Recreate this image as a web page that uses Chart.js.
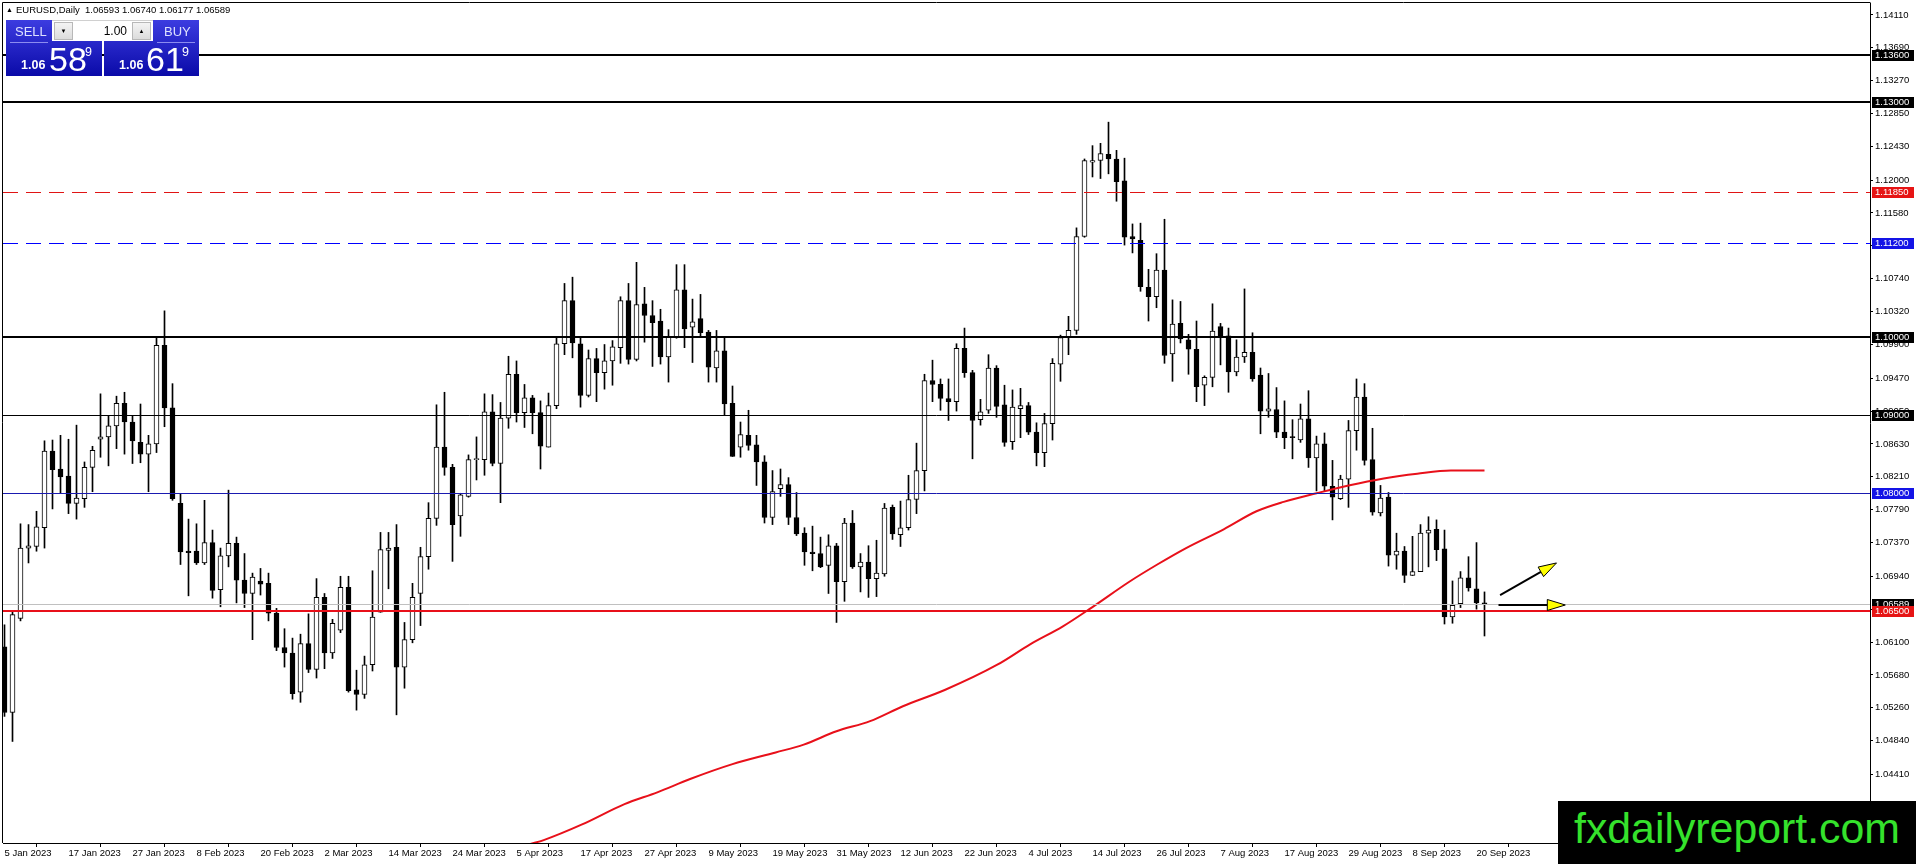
<!DOCTYPE html>
<html><head><meta charset="utf-8">
<script src="https://cdn.jsdelivr.net/npm/chart.js@4.4.0/dist/chart.umd.min.js"></script>
<style>
html,body{margin:0;padding:0;background:#fff;overflow:hidden;}
#wrap{position:relative;width:1916px;height:864px;font-family:"Liberation Sans",Arial,sans-serif;}
canvas{position:absolute;left:0;top:0;}
#hdr{position:absolute;left:6px;top:4px;font-size:9.5px;color:#000;white-space:nowrap;line-height:12px;}
#hdr .tri{font-size:7px;vertical-align:1px;margin-right:3px;}
.btn{position:absolute;background:linear-gradient(#3c3ce0,#0a0aa8);overflow:hidden;}
.btn div{position:absolute;white-space:nowrap;color:#fff;}
.lbl{font-size:13px;line-height:15px;color:#dde0ff !important;}
.ul{height:1px;background:#8c8cf0;}
.small{font-size:12.5px;line-height:13px;font-weight:bold;}
.big{font-size:34px;line-height:34px;}
.sup{font-size:12.5px;line-height:13px;}
#lot{position:absolute;left:52px;top:20px;width:101px;height:21px;background:#fff;border-top:1px solid #d0d0d0;box-sizing:border-box;}
#lot .ar{position:absolute;top:1px;width:19px;height:18px;background:linear-gradient(#f4f4f4,#dcdcdc);border:1px solid #b8b8b8;box-sizing:border-box;font-size:6px;line-height:16px;text-align:center;color:#000;}
#lot .val{position:absolute;right:26px;top:2px;font-size:12px;line-height:16px;color:#000;}
#wm{position:absolute;left:1558px;top:801px;width:358px;height:63px;background:#000;overflow:hidden;}
#wmt{position:absolute;left:16px;top:4px;font-family:"Liberation Sans Narrow","Liberation Sans",Arial,sans-serif;font-size:42px;line-height:48px;color:#35e22c;white-space:nowrap;transform-origin:0 0;}
</style></head><body>
<div id="wrap">
<canvas id="c" width="1916" height="864"></canvas>
<div id="hdr"><span class="tri">&#9650;</span>EURUSD,Daily&nbsp; 1.06593 1.06740 1.06177 1.06589</div>
<div class="btn" style="left:6px;top:20px;width:96px;height:56px;">
  <div class="lbl" style="left:9px;top:4px;">SELL</div>
  <div class="ul" style="left:4px;top:22px;width:38px;"></div>
  <div class="small" style="left:15px;top:39px;">1.06</div>
  <div class="big" style="left:43px;top:22px;">58</div>
  <div class="sup" style="left:79px;top:26px;">9</div>
</div>
<div class="btn" style="left:104px;top:20px;width:95px;height:56px;">
  <div class="lbl" style="left:60px;top:4px;">BUY</div>
  <div class="ul" style="left:53px;top:22px;width:38px;"></div>
  <div class="small" style="left:15px;top:39px;">1.06</div>
  <div class="big" style="left:42px;top:22px;">61</div>
  <div class="sup" style="left:78px;top:26px;">9</div>
</div>
<div id="lot">
  <div class="ar" style="left:2px;">&#9660;</div>
  <div class="val">1.00</div>
  <div class="ar" style="left:80px;">&#9650;</div>
</div>
<div id="wm"><div id="wmt">fxdailyreport.com</div></div>
</div>
<script>
// ---------- data ----------
const dateLabels = ["5 Jan 2023","17 Jan 2023","27 Jan 2023","8 Feb 2023","20 Feb 2023","2 Mar 2023","14 Mar 2023","24 Mar 2023","5 Apr 2023","17 Apr 2023","27 Apr 2023","9 May 2023","19 May 2023","31 May 2023","12 Jun 2023","22 Jun 2023","4 Jul 2023","14 Jul 2023","26 Jul 2023","7 Aug 2023","17 Aug 2023","29 Aug 2023","8 Sep 2023","20 Sep 2023"];
const dateTickIdx = [0,8,16,24,32,40,48,56,64,72,80,88,96,104,112,120,128,136,144,152,160,168,176,184];

const opens = [1.0604,1.0520,1.0640,1.0730,1.0732,1.0756,1.0854,1.0831,1.0822,1.0787,1.0793,1.0833,1.0869,1.0872,1.0886,1.0915,1.0891,1.0865,1.0850,1.0863,
1.0989,1.0909,1.0787,1.0726,1.0726,1.0711,1.0737,1.0677,1.0720,1.0736,1.0689,1.0672,1.0688,1.0685,1.0647,1.0603,1.0596,1.0546,1.0608,1.0575,
1.0667,1.0596,1.0625,1.0680,1.0549,1.0543,1.0581,1.0648,1.0727,1.0731,1.0578,1.0613,1.0672,1.0719,1.0768,1.0859,1.0833,1.0771,1.0796,1.0843,
1.0843,1.0904,1.0838,1.0896,1.0952,1.0903,1.0922,1.0903,1.0859,1.0912,1.0991,1.1046,1.0991,1.0925,1.0972,1.0954,1.0969,1.0986,1.1046,1.0971,
1.1042,1.1027,1.1020,1.0974,1.1000,1.1060,1.1012,1.1023,1.1006,1.0960,1.0982,1.0915,1.0859,1.0874,1.0862,1.0840,1.0769,1.0806,1.0811,1.0769,
1.0749,1.0725,1.0723,1.0708,1.0733,1.0687,1.0762,1.0706,1.0712,1.0691,1.0697,1.0782,1.0747,1.0756,1.0792,1.0829,1.0944,1.0939,1.0921,1.0917,
1.0985,1.0954,1.0894,1.0906,1.0960,1.0913,1.0866,1.0908,1.0912,1.0878,1.0852,1.0889,1.0965,1.1000,1.1008,1.1128,1.1223,1.1225,1.1233,1.1227,
1.1199,1.1128,1.1123,1.1063,1.1051,1.1085,1.0978,1.1017,1.0996,1.0984,1.0938,1.0948,1.1013,1.1001,1.0955,1.0974,1.0980,1.0951,1.0905,1.0907,
1.0878,1.0872,1.0868,1.0895,1.0845,1.0863,1.0809,1.0793,1.0818,1.0880,1.0923,1.0843,1.0775,1.0795,1.0721,1.0726,1.0695,1.0700,1.0749,1.0754,
1.0729,1.0642,1.0659,1.0692,1.0678,1.06593];
const highs = [1.0632,1.0649,1.0761,1.0760,1.0777,1.0867,1.0868,1.0874,1.0869,1.0887,1.0840,1.0860,1.0927,1.0899,1.0924,1.0929,1.0899,1.0914,1.0874,1.1000,
1.1033,1.0940,1.0799,1.0767,1.0761,1.0791,1.0753,1.0730,1.0804,1.0744,1.0723,1.0698,1.0704,1.0698,1.0653,1.0627,1.0615,1.0620,1.0646,1.0691,
1.0672,1.0639,1.0694,1.0694,1.0574,1.0592,1.0701,1.0750,1.0750,1.0760,1.0635,1.0685,1.0731,1.0788,1.0913,1.0929,1.0837,1.0800,1.0849,1.0872,
1.0927,1.0926,1.0916,1.0975,1.0969,1.0939,1.0925,1.0918,1.0928,1.1000,1.1068,1.1076,1.1000,1.0983,1.0985,1.0990,1.0995,1.1051,1.1068,1.1095,
1.1063,1.1046,1.1035,1.1009,1.1092,1.1092,1.1048,1.1054,1.1008,1.1008,1.1000,1.0937,1.0891,1.0906,1.0874,1.0848,1.0829,1.0831,1.0820,1.0801,
1.0756,1.0758,1.0744,1.0747,1.0736,1.0768,1.0778,1.0723,1.0733,1.0740,1.0787,1.0785,1.0790,1.0823,1.0864,1.0952,1.0970,1.0946,1.0946,1.0991,
1.1011,1.0957,1.0920,1.0977,1.0963,1.0938,1.0932,1.0934,1.0916,1.0890,1.0902,1.0972,1.1002,1.1026,1.1139,1.1227,1.1244,1.1247,1.1274,1.1238,
1.1228,1.1144,1.1145,1.1086,1.1106,1.1150,1.1047,1.1045,1.1003,1.1020,1.0950,1.1042,1.1017,1.1011,1.0996,1.1061,1.1005,1.0960,1.0953,1.0935,
1.0918,1.0894,1.0914,1.0931,1.0873,1.0877,1.0842,1.0823,1.0893,1.0946,1.0940,1.0883,1.0810,1.0801,1.0749,1.0732,1.0745,1.0760,1.0770,1.0766,
1.0753,1.0688,1.0700,1.0719,1.0737,1.06740];
const lows = [1.0515,1.0483,1.0637,1.0711,1.0726,1.0730,1.0780,1.0800,1.0774,1.0767,1.0782,1.0802,1.0846,1.0835,1.0857,1.0850,1.0838,1.0839,1.0802,1.0852,
1.0885,1.0791,1.0709,1.0669,1.0709,1.0709,1.0666,1.0655,1.0706,1.0660,1.0654,1.0613,1.0670,1.0637,1.0599,1.0578,1.0537,1.0533,1.0571,1.0564,
1.0576,1.0589,1.0622,1.0546,1.0523,1.0538,1.0573,1.0648,1.0678,1.0517,1.0551,1.0609,1.0631,1.0703,1.0759,1.0823,1.0713,1.0745,1.0795,1.0817,
1.0823,1.0835,1.0788,1.0883,1.0891,1.0884,1.0876,1.0831,1.0859,1.0908,1.0977,1.0973,1.0910,1.0923,1.0917,1.0933,1.0938,1.0966,1.0965,1.0969,
1.0993,1.0962,1.0965,1.0942,1.0998,1.0986,1.0967,1.1001,1.0942,1.0942,1.0900,1.0847,1.0846,1.0855,1.0810,1.0762,1.0760,1.0796,1.0760,1.0746,
1.0708,1.0701,1.0705,1.0672,1.0635,1.0662,1.0704,1.0674,1.0667,1.0668,1.0694,1.0741,1.0732,1.0753,1.0774,1.0803,1.0917,1.0906,1.0893,1.0905,
1.0948,1.0844,1.0887,1.0902,1.0897,1.0860,1.0856,1.0871,1.0875,1.0835,1.0834,1.0868,1.0943,1.0977,1.1003,1.1127,1.1204,1.1202,1.1208,1.1173,
1.1117,1.1107,1.1058,1.1020,1.1037,1.0966,1.0943,1.0992,1.0952,1.0917,1.0912,1.0936,1.0964,1.0929,1.0950,1.0967,1.0943,1.0876,1.0897,1.0871,
1.0857,1.0844,1.0865,1.0833,1.0803,1.0803,1.0766,1.0792,1.0782,1.0855,1.0836,1.0772,1.0771,1.0707,1.0703,1.0686,1.0695,1.0700,1.0706,1.0714,
1.0633,1.0634,1.0654,1.0675,1.0652,1.06177];
const closes = [1.0520,1.0645,1.0730,1.0733,1.0757,1.0854,1.0830,1.0821,1.0787,1.0794,1.0833,1.0855,1.0872,1.0886,1.0915,1.0891,1.0867,1.0850,1.0863,1.0989,
1.0909,1.0793,1.0725,1.0724,1.0711,1.0737,1.0676,1.0720,1.0736,1.0689,1.0672,1.0693,1.0684,1.0647,1.0603,1.0596,1.0544,1.0608,1.0575,1.0667,
1.0596,1.0634,1.0680,1.0548,1.0543,1.0581,1.0642,1.0728,1.0730,1.0578,1.0613,1.0667,1.0719,1.0768,1.0859,1.0833,1.0760,1.0798,1.0843,1.0844,
1.0904,1.0838,1.0896,1.0952,1.0903,1.0922,1.0903,1.0860,1.0912,1.0991,1.1046,1.0992,1.0925,1.0972,1.0954,1.0969,1.0987,1.1046,1.0971,1.1041,
1.1027,1.1018,1.0974,1.1000,1.1060,1.1010,1.1019,1.1005,1.0961,1.0982,1.0914,1.0847,1.0875,1.0861,1.0840,1.0769,1.0802,1.0811,1.0769,1.0748,
1.0725,1.0723,1.0706,1.0733,1.0687,1.0762,1.0706,1.0712,1.0691,1.0698,1.0781,1.0748,1.0756,1.0792,1.0829,1.0944,1.0939,1.0921,1.0917,1.0985,
1.0954,1.0893,1.0904,1.0960,1.0911,1.0865,1.0910,1.0912,1.0878,1.0852,1.0889,1.0966,1.0999,1.1008,1.1128,1.1225,1.1225,1.1234,1.1227,1.1198,
1.1127,1.1125,1.1064,1.1051,1.1085,1.0976,1.1016,1.0997,1.0984,1.0936,1.0948,1.1007,1.1000,1.0955,1.0974,1.0980,1.0946,1.0905,1.0908,1.0878,
1.0871,1.0871,1.0895,1.0845,1.0863,1.0809,1.0795,1.0818,1.0880,1.0923,1.0842,1.0776,1.0794,1.0721,1.0726,1.0695,1.0700,1.0749,1.0753,1.0728,
1.0642,1.0657,1.0692,1.0679,1.0660,1.06589];

// moving average (at knot positions)
const maIdx = [65.7,67.4,72.2,77.5,81.6,85.7,91.0,96.4,99.9,104.0,108.2,112.3,117.6,124.1,128.2,132.3,135.9,140.6,144.1,147.7,152.4,156.5,159.9,164.0,168.0,172.4,176.6,180.8,185];
const maVal = [1.0352,1.0357,1.0377,1.0403,1.0418,1.0435,1.0454,1.0469,1.0479,1.0496,1.0509,1.0528,1.0549,1.0581,1.0607,1.0630,1.0654,1.0687,1.0709,1.0730,1.0754,1.0777,1.0789,1.0800,1.0810,1.0819,1.0825,1.0829,1.0829];

const yTickValues = [1.14110,1.13690,1.13270,1.12850,1.12430,1.12000,1.11580,1.11160,1.10740,1.10320,1.09900,1.09470,1.09050,1.08630,1.08210,1.07790,1.07370,1.06940,1.06520,1.06100,1.05680,1.05260,1.04840,1.04410,1.03990];
const levelPrices = [1.13600,1.13000,1.11850,1.11200,1.10000,1.09000,1.08000,1.06500];
const bidPrice = 1.06589;
// arrows: from (index, price) to (index, price)
const arrowFromIdx = [186.95, 186.75];
const arrowFromPrice = [1.0670, 1.06573];
const arrowToIdx = [194.0, 195.1];
const arrowToPrice = [1.0711, 1.06573];

// ---------- styles ----------
const levelStyles = [
  {c:'#000000', w:2, d:[], box:'#000000'},
  {c:'#000000', w:2, d:[], box:'#000000'},
  {c:'#e01414', w:1, d:[15,8], box:'#e61414'},
  {c:'#0000ff', w:1, d:[15,8], box:'#1414e6'},
  {c:'#000000', w:2, d:[], box:'#000000'},
  {c:'#000000', w:1, d:[], box:'#000000'},
  {c:'#1a1ab0', w:1, d:[], box:'#1414e6'},
  {c:'#e8101a', w:2, d:[], box:'#e61414'}
];
const FONT = "Liberation Sans";
const Y_MIN = 1.03533, Y_MAX = 1.14262;
const X_MIN = -0.1875, X_MAX = -0.1875 + 1867/8;

const wickData = lows.map((l,i)=>({x:i, y:[l, highs[i]]}));
const bodyData = opens.map((o,i)=>({x:i, y:[o, closes[i]]}));
const bodyFill = opens.map((o,i)=> closes[i] >= o ? '#ffffff' : '#000000');
const maData = maIdx.map((x,k)=>({x:x, y:maVal[k]}));

const framePlugin = {
  id:'frame',
  afterDatasetsDraw(chart){
    const {ctx, chartArea:a, scales:{x, y}} = chart;
    ctx.save();
    ctx.beginPath(); ctx.rect(a.left, a.top, a.right-a.left, a.bottom-a.top); ctx.clip();
    let py = Math.round(y.getPixelForValue(bidPrice)) + 0.5;
    ctx.strokeStyle = '#c0c0c0'; ctx.lineWidth = 1; ctx.setLineDash([]);
    ctx.beginPath(); ctx.moveTo(a.left, py); ctx.lineTo(a.right, py); ctx.stroke();
    levelPrices.forEach((p,k)=>{
      const s = levelStyles[k];
      let yy = y.getPixelForValue(p);
      yy = s.w % 2 ? Math.round(yy) + 0.5 : Math.round(yy);
      ctx.strokeStyle = s.c; ctx.lineWidth = s.w; ctx.setLineDash(s.d);
      ctx.beginPath(); ctx.moveTo(a.left, yy); ctx.lineTo(a.right, yy); ctx.stroke();
    });
    ctx.setLineDash([]);
    for (let k=0;k<arrowFromIdx.length;k++){
      const x0 = x.getPixelForValue(arrowFromIdx[k]), y0 = y.getPixelForValue(arrowFromPrice[k]);
      const x1 = x.getPixelForValue(arrowToIdx[k]), y1 = y.getPixelForValue(arrowToPrice[k]);
      const ang = Math.atan2(y1-y0, x1-x0);
      const L = 18, W = 5.5;
      const bx = x1 - L*Math.cos(ang), by = y1 - L*Math.sin(ang);
      ctx.strokeStyle = '#000'; ctx.lineWidth = 2;
      ctx.beginPath(); ctx.moveTo(x0,y0); ctx.lineTo(bx,by); ctx.stroke();
      ctx.beginPath();
      ctx.moveTo(x1,y1);
      ctx.lineTo(bx + W*Math.sin(ang), by - W*Math.cos(ang));
      ctx.lineTo(bx - W*Math.sin(ang), by + W*Math.cos(ang));
      ctx.closePath();
      ctx.fillStyle = '#ffff00'; ctx.fill();
      ctx.lineWidth = 1; ctx.strokeStyle = '#000'; ctx.stroke();
    }
    ctx.restore();
  },
  afterDraw(chart){
    const {ctx, chartArea:a, scales:{y}} = chart;
    ctx.save();
    ctx.strokeStyle = '#000'; ctx.lineWidth = 1;
    ctx.beginPath(); ctx.moveTo(a.left-0.5, a.bottom); ctx.lineTo(a.left-0.5, a.top-0.5); ctx.lineTo(a.right+0.5, a.top-0.5); ctx.stroke();
    const drawBox = (p, col) => {
      const yy = Math.round(y.getPixelForValue(p));
      ctx.fillStyle = col;
      ctx.fillRect(a.right+2, yy-5, 42, 11);
      ctx.fillStyle = '#fff';
      ctx.font = '9.5px "' + FONT + '"';
      ctx.textBaseline = 'middle'; ctx.textAlign = 'left';
      ctx.fillText(p.toFixed(5), a.right+5, yy+0.5);
    };
    drawBox(bidPrice, '#000000');
    levelPrices.forEach((p,k)=> drawBox(p, levelStyles[k].box));
    ctx.restore();
  }
};

new Chart(document.getElementById('c'), {
  type:'bar',
  data:{
    datasets:[
      {type:'bar', data:wickData, backgroundColor:'#000', borderWidth:0, barThickness:1, grouped:false, order:3},
      {type:'bar', data:bodyData, backgroundColor:bodyFill, borderColor:'#000', borderWidth:1, borderSkipped:false, barThickness:5, minBarLength:1, grouped:false, order:2},
      {type:'line', data:maData, borderColor:'#e8101a', borderWidth:2, pointRadius:0, tension:0.4, cubicInterpolationMode:'monotone', fill:false, order:1}
    ]
  },
  options:{
    responsive:false, animation:false, devicePixelRatio:1,
    layout:{padding:{left:3, top:3, right:0, bottom:0}},
    plugins:{legend:{display:false}, tooltip:{enabled:false}},
    scales:{
      x:{
        type:'linear', min:X_MIN, max:X_MAX, offset:false,
        grid:{drawOnChartArea:false, drawTicks:true, tickLength:4, color:'#000'},
        border:{display:true, color:'#000', width:1},
        ticks:{autoSkip:false, maxRotation:0, minRotation:0, align:'start', padding:1, color:'#000',
               font:{family:FONT, size:9.5},
               callback:(v)=>{ const k = dateTickIdx.indexOf(v); return k>=0 ? dateLabels[k] : ''; }},
        afterBuildTicks:(s)=>{ s.ticks = dateTickIdx.map(v=>({value:v})); },
        afterFit:(s)=>{ s.height = 21; s.paddingLeft = 0; s.paddingRight = 0; s.paddingTop = 0; s.paddingBottom = 0; }
      },
      y:{
        type:'linear', position:'right', min:Y_MIN, max:Y_MAX,
        grid:{drawOnChartArea:false, drawTicks:true, tickLength:3, color:'#000'},
        border:{display:true, color:'#000', width:1},
        ticks:{autoSkip:false, padding:2, color:'#000', font:{family:FONT, size:9.5},
               callback:(v)=> Number(v).toFixed(5)},
        afterBuildTicks:(s)=>{ s.ticks = yTickValues.map(v=>({value:v})); },
        afterFit:(s)=>{ s.width = 46; s.paddingTop = 0; s.paddingBottom = 0; s.paddingLeft = 0; s.paddingRight = 0; }
      }
    }
  },
  plugins:[framePlugin]
});

const wmt = document.getElementById('wmt');
const w = wmt.getBoundingClientRect().width;
if (w > 0) wmt.style.transform = 'scaleX(' + (326 / w) + ')';
</script>
</body></html>
